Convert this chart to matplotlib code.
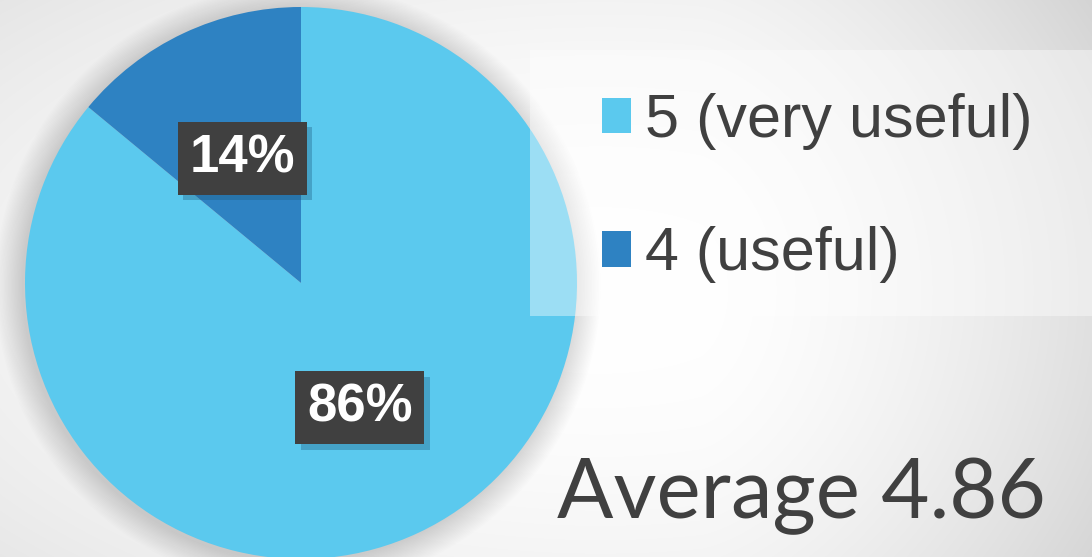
import numpy as np
import matplotlib
matplotlib.use('Agg')
import matplotlib.pyplot as plt
from matplotlib.patches import Rectangle, Circle
import matplotlib.patheffects as pe

# survey answers (share of respondents)
labels = ['5 (very useful)', '4 (useful)']
shares = [86, 14]
colors = ['#5BC9EE', '#2E82C2']
average = 4.86

W, H = 1092, 557
TEXT = '#404040'

fig = plt.figure(figsize=(W / 100, H / 100), dpi=100)
ax = fig.add_axes([0, 0, 1, 1])

# soft grey background, bright in the middle
yy, xx = np.mgrid[0:H, 0:W]
r2 = ((xx - 600) / 600.0) ** 2 + ((yy - 290) / 300.0) ** 2
right = np.clip((xx - 700) / 392.0, 0, None)
v = 255 - 13 * r2 - 22 * right ** 1.5
v = np.clip(v, 0, 255) / 255.0
ax.imshow(np.dstack([v, v, v]), extent=[0, W, 0, H], origin='upper',
          zorder=0, aspect='auto')

cx, cy, R = 301, H - 283, 276

# blurred shadow behind the pie
for i in range(20):
    ax.add_patch(Circle((cx - 3, cy - 3), R + 1.4 * i, color='black',
                        alpha=0.009, lw=0, zorder=1))

wedges, _, autotexts = ax.pie(
    shares, colors=colors, startangle=90, counterclock=False,
    center=(cx, cy), radius=R, autopct='%d%%', pctdistance=0.5,
    wedgeprops=dict(linewidth=0, zorder=2), frame=True,
    textprops=dict(color='white', fontsize=38, fontweight='bold',
                   family='Liberation Sans'))
ax.set_xlim(0, W)
ax.set_ylim(0, H)
ax.set_aspect('equal')
ax.axis('off')

# dark label boxes with a drop shadow
for t in autotexts:
    t.set_zorder(6)
    t.set_bbox(dict(boxstyle='square,pad=0.22', facecolor='#404040',
                    edgecolor='none', linewidth=0))
    t.get_bbox_patch().set_path_effects([
        pe.SimplePatchShadow(offset=(4, -4), shadow_rgbFace='#1d5b80', alpha=0.35),
        pe.Normal()])

# legend panel
ax.add_patch(Rectangle((530, H - 316), W - 530 + 5, 266, facecolor='white',
                       alpha=0.4, lw=0, zorder=3))

leg = ax.legend(wedges, labels, loc='upper left', frameon=False,
                bbox_to_anchor=(602, H - 93), bbox_transform=ax.transData,
                borderaxespad=0, borderpad=0,
                handlelength=0.48, handleheight=0.52, handletextpad=0.23,
                labelspacing=1.25, prop=dict(family='Liberation Sans', size=44))
for t in leg.get_texts():
    t.set_color(TEXT)
leg.set_zorder(5)

ax.text(557, H - 518, f'Average {average}', ha='left', va='baseline',
        fontsize=60, color=TEXT, family='Lato', zorder=5)

fig.savefig('out.png', dpi=100)
